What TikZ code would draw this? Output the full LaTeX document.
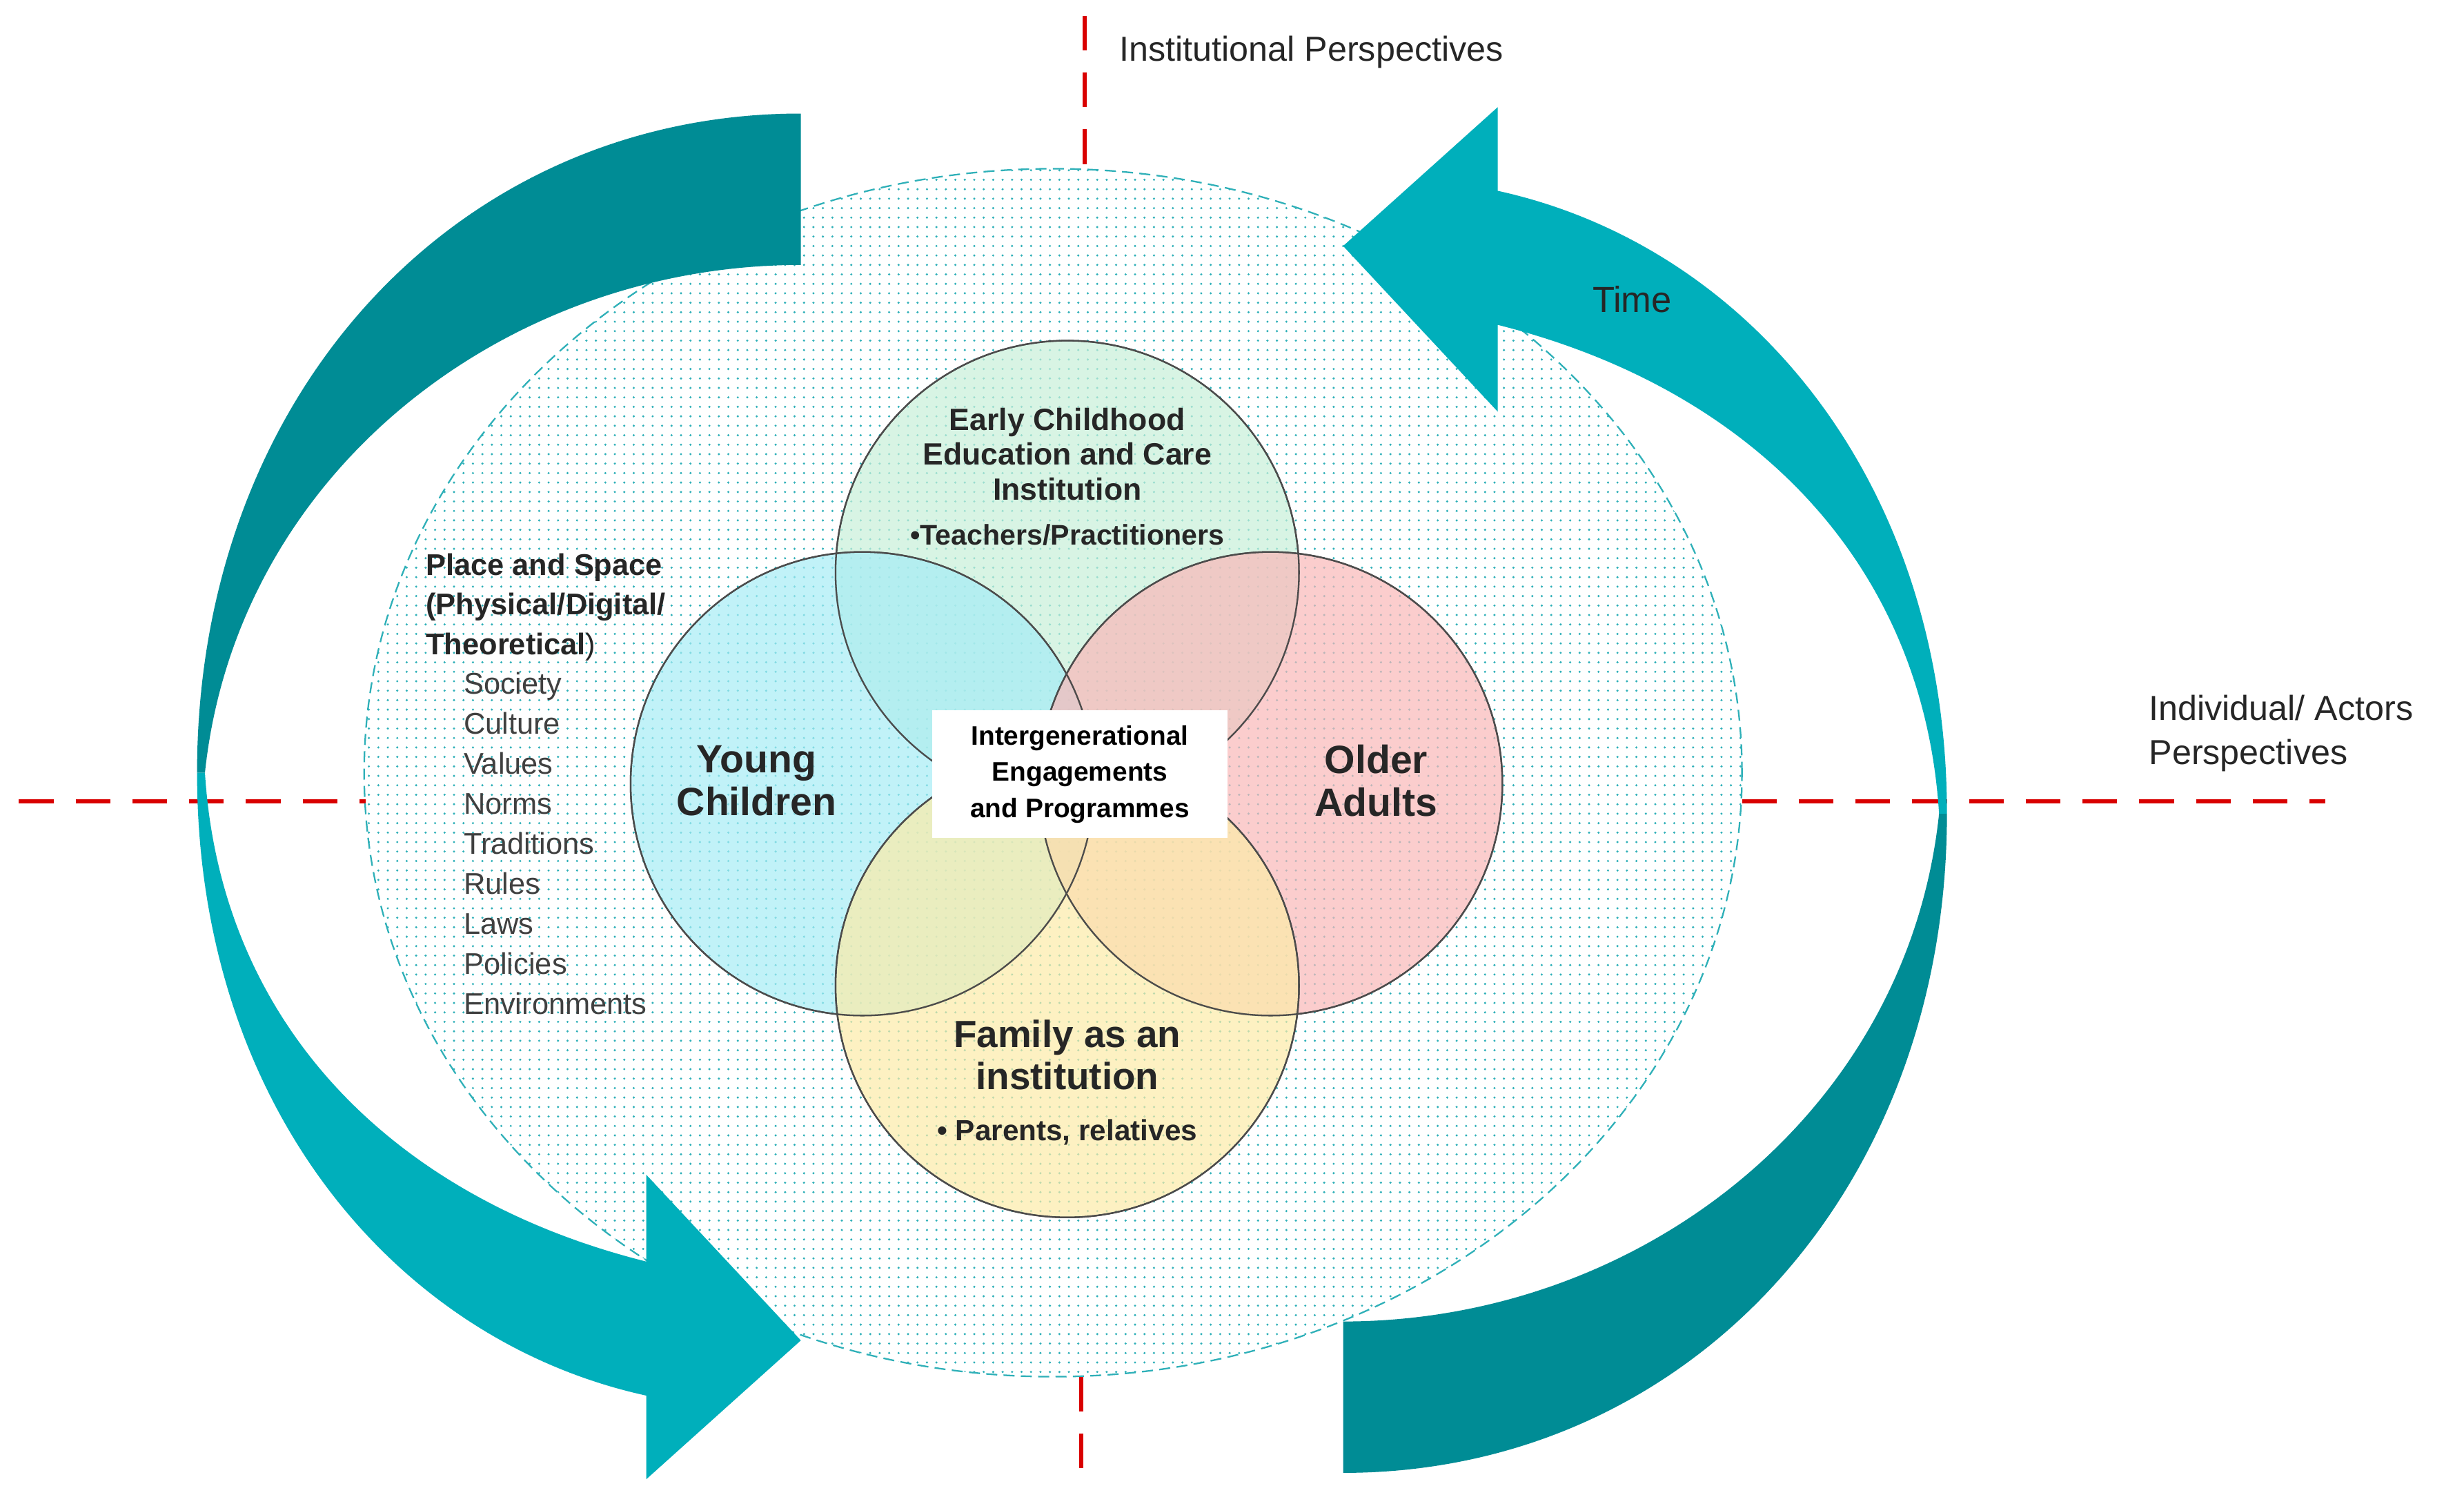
\documentclass[tikz,border=0pt]{standalone}
\usepackage{fontspec}
\setmainfont{Liberation Sans}
\usetikzlibrary{patterns.meta,shapes.geometric}
\definecolor{darkteal}{HTML}{008C95}
\definecolor{lightteal}{HTML}{00AFBB}
\definecolor{dotteal}{HTML}{2FB0B8}
\definecolor{cgreen}{HTML}{C8F0D8}
\definecolor{ccyan}{HTML}{A6ECF5}
\definecolor{cpink}{HTML}{F9B8B8}
\definecolor{cyellow}{HTML}{FCEBA8}
\definecolor{txt}{HTML}{262626}
\tikzset{
 redline/.style={draw=red!85!black,line width=2.5pt,dash pattern=on 22pt off 14pt},
 venn/.style={draw=black!75,line width=1pt,fill opacity=0.7},
 lbl/.style={text=txt,font=\fontsize{#1}{#1}\selectfont,inner sep=0pt},
 blbl/.style 2 args={text=txt,font=\bfseries\fontsize{#1}{#2}\selectfont,inner sep=0pt,align=center},
}
\begin{document}
\begin{tikzpicture}[x=1pt,y=-1pt]
\useasboundingbox (0,0) rectangle (1563,948);
% red axes
\coordinate (h1) at (12,508); \coordinate (h2) at (232,508);
\coordinate (h3) at (1105,508); \coordinate (h4) at (1475,508);
\coordinate (v1) at (688,10); \coordinate (v2) at (688,107);
\coordinate (v3) at (686,873); \coordinate (v4) at (686,938);
\draw[redline] (h1) -- (h2); \draw[redline] (h3) -- (h4);
\draw[redline] (v1) -- (v2); \draw[redline] (v3) -- (v4);
% big ellipse
\node[draw=dotteal,dash pattern=on 7pt off 4pt,line width=1pt,ellipse,minimum width=874pt,minimum height=766pt,inner sep=0pt,
  pattern={Dots[distance=6pt,radius=0.75pt]},pattern color=dotteal] (E) at (668,490) {};
% venn
\fill[venn,fill=cgreen] (677,363) circle[radius=147pt];
\fill[venn,fill=ccyan] (547,497) circle[radius=147pt];
\fill[venn,fill=cpink] (806,497) circle[radius=147pt];
\fill[venn,fill=cyellow] (677,625) circle[radius=147pt];
\foreach \c in {(677,363),(547,497),(806,497),(677,625)}
  \draw[black!70,line width=1pt] \c circle[radius=147pt];
% arrows
\foreach \r in {0,180}{
\begin{scope}[rotate around={\r:(680,503)}]
\fill[darkteal] (508,72) .. controls (290,72) and (125,250) .. (125,490)
   -- (130,490) .. controls (150,300) and (320,168) .. (508,168) -- cycle;
\fill[lightteal] (125,490) .. controls (125,700) and (250,850) .. (410,885)
   -- (410,938) -- (508,850) -- (410,745) -- (410,800)
   .. controls (250,760) and (140,650) .. (130,490) -- cycle;
\end{scope}}
% texts
\node[lbl=22,anchor=west] (ip) at (710,33) {Institutional Perspectives};
\node[lbl=23,anchor=west] (time) at (1010,190) {Time};
\node[lbl=22,anchor=west,align=left] (ia) at (1363,465) {Individual/ Actors\\[6pt]Perspectives};
\node[blbl={19}{25},anchor=north west,align=left] (ps) at (270,351) {Place and Space\\(Physical/Digital/\\Theoretical\mdseries)};
\node[anchor=north west,align=left,text=black!75,font=\fontsize{19}{25.4}\selectfont,inner sep=0pt] (list) at (294,426)
 {Society\\Culture\\Values\\Norms\\Traditions\\Rules\\Laws\\Policies\\Environments};
\node[blbl={19.5}{22}] (ec) at (677,288) {Early Childhood\\Education and Care\\Institution};
\node[blbl={18}{20}] (tp) at (677,339) {\textbullet Teachers/Practitioners};
\node[blbl={25}{27}] (yc) at (480,495) {Young\\Children};
\node[blbl={25}{27}] (oa) at (873,495) {Older\\Adults};
\node[blbl={24}{27}] (fam) at (677,669) {Family  as an\\institution};
\node[blbl={18.5}{20}] (par) at (677,718) {\textbullet\ Parents, relatives};
\node[fill=white,minimum width=187pt,minimum height=81pt,inner sep=0pt] (box) at (685,491) {};
\node[blbl={17}{23},text=black] (ie) at (685,491) {Intergenerational\\Engagements\\and Programmes};
\end{tikzpicture}
\end{document}
